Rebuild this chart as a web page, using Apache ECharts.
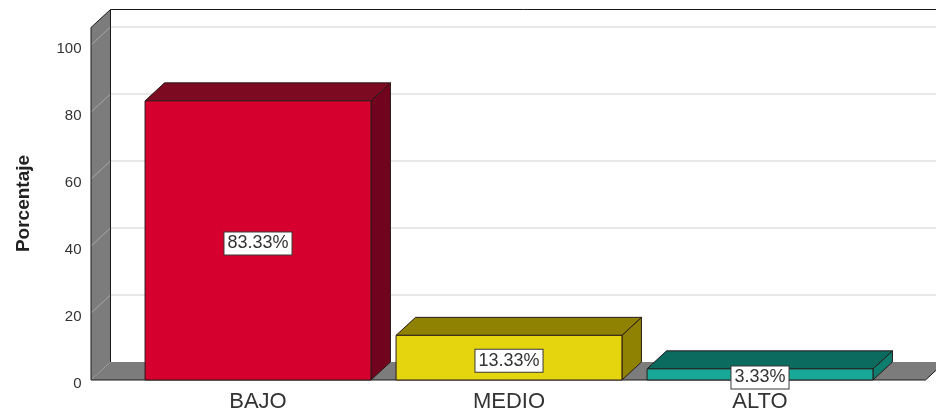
<!DOCTYPE html>
<html><head><meta charset="utf-8">
<style>html,body{margin:0;padding:0;background:#fff}#c{width:936px;height:410px}</style>
<script src="https://cdn.jsdelivr.net/npm/echarts@6/dist/echarts.min.js"></script>
</head><body><div id="c"></div>
<script>
const categories = ['BAJO', 'MEDIO', 'ALTO'];
const percentages = [83.33, 13.33, 3.33];
const valueLabels = ['83.33%', '13.33%', '3.33%'];
const yTicks = [0, 20, 40, 60, 80, 100];
const frontColors = ['#D5002E', '#E4D50F', '#18A898'];
const topColors = ['#7C0A20', '#8F8203', '#0A6B5E'];
const sideColors = ['#72031F', '#8F8203', '#0E7D6E'];

const depthX = 19.5, depthY = 18, overL = 41.5, overR = 40, wallExtra = 17.5, labelNudge = 3;
const edge = '#2a1a1a';
const poly = (points, fill, stroke, z2) => ({ type: 'polygon', z2: z2 || 0, shape: { points }, style: { fill, stroke: stroke || 'none', lineWidth: 1 } });
const seg = (x1, y1, x2, y2, stroke, w) => ({ type: 'line', shape: { x1, y1, x2, y2 }, style: { stroke, lineWidth: w || 1 } });

function renderWalls(params, api) {
  const cs = params.coordSys;
  const L = cs.x - overL, R = cs.x + cs.width + overR;
  const y0 = api.coord([0, 0])[1];
  const top = api.coord([0, 100])[1] - wallExtra;
  const kids = [];
  kids.push(poly([[L, y0], [L, top], [L + depthX, top - depthY], [L + depthX, y0 - depthY]], '#7C7C7C'));
  kids.push(poly([[L, y0], [L + depthX, y0 - depthY], [R + depthX, y0 - depthY], [R, y0]], '#7C7C7C'));
  yTicks.slice(1).forEach(t => {
    const y = api.coord([0, t])[1];
    kids.push(seg(L, y, L + depthX, y - depthY, '#A8A8A8'));
    kids.push(seg(L + depthX, y - depthY, R + depthX, y - depthY, '#D2D2D2', 1.2));
  });
  kids.push(seg(L + depthX, top - depthY, R + depthX, top - depthY, '#1a1a1a'));
  kids.push(seg(L + depthX, top - depthY, L + depthX, y0 - depthY, '#1a1a1a'));
  kids.push(seg(L, top, L + depthX, top - depthY, '#1a1a1a'));
  kids.push(seg(L, top, L, y0, '#1a1a1a'));
  kids.push(seg(L, y0, R, y0, '#1a1a1a'));
  kids.push(seg(R, y0, R + depthX, y0 - depthY, '#1a1a1a'));
  return { type: 'group', children: kids };
}

function renderBar(params, api) {
  const i = api.value(0), v = api.value(1);
  const w = api.size([1, 0])[0] * 0.9;
  const c = api.coord([i, v]), b = api.coord([i, 0]);
  const x0 = c[0] - w / 2, x1 = c[0] + w / 2, yt = c[1], yb = b[1];
  return { type: 'group', children: [
    poly([[x1, yb], [x1, yt], [x1 + depthX, yt - depthY], [x1 + depthX, yb - depthY]], sideColors[i], edge),
    poly([[x0, yt], [x0 + depthX, yt - depthY], [x1 + depthX, yt - depthY], [x1, yt]], topColors[i], edge),
    poly([[x0, yb], [x0, yt], [x1, yt], [x1, yb]], frontColors[i], edge),
    { type: 'text', z2: 10, x: c[0], y: (yt + yb) / 2 + labelNudge, style: {
      text: valueLabels[i], fill: '#333', font: '18px "Liberation Sans"', align: 'center', verticalAlign: 'middle',
      backgroundColor: '#fff', borderColor: '#3a3a3a', borderWidth: 1, padding: [2, 3, 2, 3]
    } }
  ] };
}

const chart = echarts.init(document.getElementById('c'), null, { renderer: 'canvas' });
chart.setOption({
  animation: false,
  backgroundColor: '#fff',
  grid: { left: 132.5, right: 50.5, top: 45, bottom: 30, outerBoundsMode: 'none' },
  xAxis: { type: 'category', data: categories, axisLine: { show: false }, axisTick: { show: false },
    axisLabel: { color: '#333', fontFamily: 'Liberation Sans', fontSize: 22, margin: 11 } },
  yAxis: { type: 'value', min: 0, max: 100, interval: 20, offset: 41, name: 'Porcentaje', nameLocation: 'middle', nameRotate: 90, nameGap: 58,
    nameTextStyle: { color: '#222', fontFamily: 'Liberation Sans', fontWeight: 'bold', fontSize: 19, padding: [0, 0, 0, 18] },
    axisLine: { show: false }, axisTick: { show: false }, splitLine: { show: false },
    axisLabel: { color: '#333', fontFamily: 'Liberation Sans', fontSize: 15, margin: 10, verticalAlign: 'top', lineHeight: 8 } },
  series: [
    { type: 'custom', coordinateSystem: 'cartesian2d', clip: false, silent: true, z: 1, renderItem: renderWalls, data: [[0, 0]], encode: { x: 0, y: 1 } },
    { type: 'custom', coordinateSystem: 'cartesian2d', clip: false, z: 2, renderItem: renderBar,
      data: percentages.map((v, i) => [i, v]), encode: { x: 0, y: 1 } }
  ]
});
</script></body></html>
